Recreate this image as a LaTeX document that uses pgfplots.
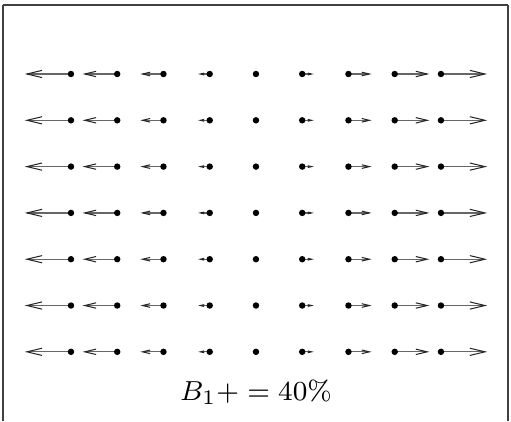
\documentclass[border=0pt]{standalone}
\usepackage{pgfplots}
\pgfplotsset{compat=1.18}
\usepackage{pgfplotstable}
\usetikzlibrary{arrows.meta}

% field samples: position (x,y) and horizontal component u
\pgfplotstableread{
x y u
-4 3 -1
-3 3 -0.75
-2 3 -0.5
-1 3 -0.25
0 3 0
1 3 0.25
2 3 0.5
3 3 0.75
4 3 1
-4 2 -1
-3 2 -0.75
-2 2 -0.5
-1 2 -0.25
0 2 0
1 2 0.25
2 2 0.5
3 2 0.75
4 2 1
-4 1 -1
-3 1 -0.75
-2 1 -0.5
-1 1 -0.25
0 1 0
1 1 0.25
2 1 0.5
3 1 0.75
4 1 1
-4 0 -1
-3 0 -0.75
-2 0 -0.5
-1 0 -0.25
0 0 0
1 0 0.25
2 0 0.5
3 0 0.75
4 0 1
-4 -1 -1
-3 -1 -0.75
-2 -1 -0.5
-1 -1 -0.25
0 -1 0
1 -1 0.25
2 -1 0.5
3 -1 0.75
4 -1 1
-4 -2 -1
-3 -2 -0.75
-2 -2 -0.5
-1 -2 -0.25
0 -2 0
1 -2 0.25
2 -2 0.5
3 -2 0.75
4 -2 1
-4 -3 -1
-3 -3 -0.75
-2 -3 -0.5
-1 -3 -0.25
0 -3 0
1 -3 0.25
2 -3 0.5
3 -3 0.75
4 -3 1
}\field

\begin{document}
\begin{tikzpicture}
\begin{axis}[
  scale only axis, width=146.8pt, height=121pt,
  xmin=-5.47, xmax=5.45, ymin=-4.5, ymax=4.49,
  axis x line=top, axis y line=box,
  axis line style={-, black!75, line width=0.4pt},
  ticks=none, clip=false,
]
% arrows, heads scaled with the arrow length
\addplot[black!60, line width=0.35pt,
  point meta={abs(\thisrow{u})}, point meta min=0, point meta max=1,
  quiver={u=\thisrow{u}, v=0, scale arrows=1,
    every arrow/.append style={
      /utils/exec={%
        \pgfmathsetmacro\hl{max(0.05,4.4*\pgfplotspointmetatransformed/1000)}%
        \pgfmathsetmacro\hw{max(0.05,2.1*\pgfplotspointmetatransformed/1000)}},
      -{Straight Barb[length=\hl pt, width=\hw pt, line width=0.3pt, color=black!85]}}},
] table {\field};
% sample points
\addplot[only marks, mark=*, mark size=0.72pt, black] table {\field};
\node[font=\fontsize{8.5}{10}\selectfont] at (axis cs:0,-3.87) {$B_1+ = 40\%$};
\end{axis}
\path ([xshift=-0.87pt]current axis.south west)
  rectangle ([xshift=0.87pt,yshift=1.45pt]current axis.north east);
\end{tikzpicture}
\end{document}
